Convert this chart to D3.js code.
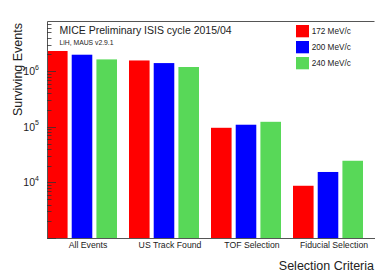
<!DOCTYPE html>
<html>
<head>
<meta charset="utf-8">
<script src="https://d3js.org/d3.v7.min.js"></script>
<style>
  body { margin: 0; background: #fff; }
  svg { display: block; font-family: "Liberation Sans", Arial, sans-serif; }
</style>
</head>
<body>
<svg id="chart" width="375" height="273"></svg>
<script>
  // categories on the x axis
  let categories = ["All Events", "US Track Found", "TOF Selection", "Fiducial Selection"];
  // beam momenta (legend)
  let series = ["172 MeV/c", "200 MeV/c", "240 MeV/c"];
  let colors = ["#ff0000", "#0000ff", "#58d858"];
  // surviving events per selection, one array per momentum
  let events172 = [2310000, 1560000, 96000, 8700];
  let events200 = [1980000, 1400000, 109000, 15400];
  let events240 = [1630000, 1190000, 123000, 24500];
  let yTickLabels = ["4", "5", "6"];

  let allValues = [events172, events200, events240];

  let svg = d3.select("#chart");
  let plotL = 47, plotR = 375, plotT = 21, plotB = 238;

  let x0 = d3.scaleBand().domain(categories).range([plotL, plotR]);
  let x1 = d3.scaleBand().domain(series).range([0, 70]).paddingInner(0.167);
  let y = d3.scaleLog().domain([1e3, Math.pow(10, 6.903)]).range([plotB, plotT]);

  // bars
  series.forEach((s, si) => {
    svg.append("g")
      .selectAll("rect")
      .data(allValues[si])
      .join("rect")
      .attr("x", (d, i) => x0(categories[i]) + x1(s))
      .attr("width", x1.bandwidth())
      .attr("y", d => y(d))
      .attr("height", d => plotB - y(d))
      .attr("fill", colors[si]);
  });

  // frame
  svg.append("path")
    .attr("d", `M${plotR - 0.5},${plotT + 0.5}H${plotL + 0.5}V${plotB + 0.5}H${plotR}`)
    .attr("fill", "none")
    .attr("stroke", "#555")
    .attr("stroke-width", 1);

  // log ticks, ROOT style (inside the frame)
  let tickVals = [];
  for (let e = 3; e <= 6; e++) {
    for (let m = 1; m <= 9; m++) {
      let v = m * Math.pow(10, e);
      if (v >= y.domain()[0] && v <= y.domain()[1]) tickVals.push(v);
    }
  }
  svg.append("g")
    .selectAll("line")
    .data(tickVals)
    .join("line")
    .attr("x1", plotL)
    .attr("x2", d => plotL + (Math.abs(Math.log10(d) - Math.round(Math.log10(d))) < 1e-9 ? 9 : 4.5))
    .attr("y1", d => Math.round(y(d)) + 0.5)
    .attr("y2", d => Math.round(y(d)) + 0.5)
    .attr("stroke", "#333")
    .attr("stroke-width", 0.8);

  // y tick labels 10^n
  svg.append("g")
    .selectAll("text")
    .data(yTickLabels)
    .join("text")
    .attr("x", 35)
    .attr("y", d => y(Math.pow(10, +d)) + 4)
    .attr("text-anchor", "end")
    .attr("font-size", 10.5)
    .attr("fill", "#222")
    .text("10");
  svg.append("g")
    .selectAll("text")
    .data(yTickLabels)
    .join("text")
    .attr("x", 35)
    .attr("y", d => y(Math.pow(10, +d)) - 1.5)
    .attr("font-size", 7)
    .attr("fill", "#222")
    .text(d => d);

  // category labels
  svg.append("g")
    .selectAll("text")
    .data(categories)
    .join("text")
    .attr("x", d => x0(d) + 41)
    .attr("y", 248)
    .attr("text-anchor", "middle")
    .attr("font-size", 8.7)
    .attr("fill", "#222")
    .text(d => d);

  // axis titles
  svg.append("text")
    .attr("transform", "translate(21.5,23) rotate(-90)")
    .attr("text-anchor", "end")
    .attr("font-size", 12.5)
    .attr("fill", "#222")
    .text("Surviving Events");
  svg.append("text")
    .attr("x", 374)
    .attr("y", 269.5)
    .attr("text-anchor", "end")
    .attr("font-size", 12.5)
    .attr("fill", "#222")
    .text("Selection Criteria");

  // header text
  svg.append("text")
    .attr("x", 59.5)
    .attr("y", 34)
    .attr("font-size", 10.5)
    .attr("fill", "#222")
    .text("MICE Preliminary ISIS cycle 2015/04");
  svg.append("text")
    .attr("x", 59.5)
    .attr("y", 44.5)
    .attr("font-size", 6.8)
    .attr("fill", "#222")
    .text("LiH, MAUS v2.9.1");

  // legend
  let leg = svg.append("g")
    .selectAll("g")
    .data(series)
    .join("g")
    .attr("transform", (d, i) => `translate(296,${25 + i * 16})`);
  leg.append("rect")
    .attr("width", 13)
    .attr("height", 12.3)
    .attr("fill", (d, i) => colors[i]);
  leg.append("text")
    .attr("x", 15.7)
    .attr("y", 9.3)
    .attr("font-size", 8.2)
    .attr("fill", "#222")
    .text(d => d);
</script>
</body>
</html>
